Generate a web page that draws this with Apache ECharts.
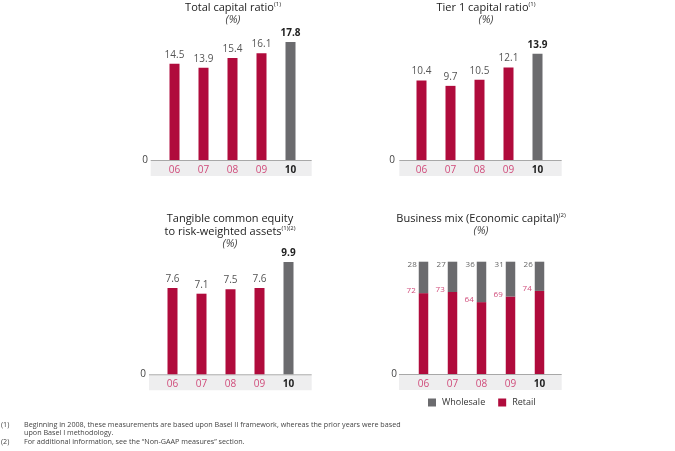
<!DOCTYPE html>
<html><head><meta charset="utf-8">
<script src="https://cdn.jsdelivr.net/npm/echarts@6/dist/echarts.min.js"></script>
<style>html,body{margin:0;padding:0;background:#fff}#c{width:675px;height:451px}</style>
</head><body><div id="c"></div>
<script>
const categories = ['06','07','08','09','10'];
const totalCapital = [14.5, 13.9, 15.4, 16.1, 17.8];
const tier1 = [10.4, 9.7, 10.5, 12.1, 13.9];
const tangible = [7.6, 7.1, 7.5, 7.6, 9.9];
const retail = [72, 73, 64, 69, 74];
const wholesale = [28, 27, 36, 31, 26];
const seriesNames = ['Retail', 'Wholesale'];
const footnoteMarks = ['(1)', '', '(2)'];
const footnotes = [
  'Beginning in 2008, these measurements are based upon Basel II framework, whereas the prior years were based',
  'upon Basel I methodology.',
  'For additional information, see the \u201cNon-GAAP measures\u201d section.'
];

const FONT = '"Open Sans", "Noto Sans", sans-serif';
const RED = '#b00b3c';
const GRAY = '#6b6b6e';
const PINK = '#d04b7a';

const chart = echarts.init(document.getElementById('c'), null, {renderer: 'canvas'});

const panels = [
  {left: 160, top: 40, height: 120, max: 18.1, bw: 10, bandL: 150.7, bandR: 311.7},
  {left: 407, top: 40, height: 120, max: 15.7, bw: 10, bandL: 399.3, bandR: 561.7},
  {left: 158, top: 254.3, height: 120, max: 10.57, bw: 10, bandL: 149, bandR: 311.7},
  {left: 409, top: 261.7, height: 112.3, max: 100, bw: 9.5, bandL: 399, bandR: 561.7}
];

const grids = panels.map(p => ({left: p.left, top: p.top, width: 145, height: p.height}));
const xAxes = panels.map((p, i) => ({
  type: 'category', gridIndex: i, data: categories,
  axisLine: {show: false}, axisTick: {show: false},
  axisLabel: {
    interval: 0, margin: 5, fontFamily: FONT, fontSize: 10,
    formatter: (v) => v === '10' ? '{b|' + v + '}' : '{n|' + v + '}',
    rich: {n: {color: PINK, fontSize: 10, fontFamily: FONT}, b: {color: '#222', fontWeight: 'bold', fontSize: 10, fontFamily: FONT}}
  }
}));
const yAxes = panels.map((p, i) => ({
  type: 'value', gridIndex: i, min: 0, max: p.max, interval: p.max,
  splitLine: {show: false}, axisLine: {show: false}, axisTick: {show: false},
  axisLabel: {margin: 12, color: '#444', fontSize: 10, fontFamily: FONT, formatter: v => v === 0 ? '0' : ''}
}));

function ratioSeries(values, i) {
  return {
    type: 'bar', xAxisIndex: i, yAxisIndex: i, barWidth: panels[i].bw,
    data: values.map((v, k) => k === values.length - 1
      ? {value: v, itemStyle: {color: GRAY}, label: {color: '#222', fontWeight: 'bold'}}
      : {value: v}),
    itemStyle: {color: RED},
    label: {show: true, position: 'top', distance: 4, color: '#555', fontSize: 10, fontFamily: FONT,
      formatter: p => p.value.toFixed(1)},
    silent: true, animation: false
  };
}

const series = [
  ratioSeries(totalCapital, 0),
  ratioSeries(tier1, 1),
  ratioSeries(tangible, 2),
  {
    name: seriesNames[0], type: 'bar', stack: 'mix', xAxisIndex: 3, yAxisIndex: 3, barWidth: panels[3].bw,
    data: retail, itemStyle: {color: RED},
    label: {show: true, position: [-3, -2], align: 'right', verticalAlign: 'middle', color: PINK, fontSize: 8, fontFamily: FONT},
    animation: false
  },
  {
    name: seriesNames[1], type: 'bar', stack: 'mix', xAxisIndex: 3, yAxisIndex: 3, barWidth: panels[3].bw,
    data: wholesale, itemStyle: {color: GRAY},
    label: {show: true, position: [-2, 3.5], align: 'right', verticalAlign: 'middle', color: '#666', fontSize: 8, fontFamily: FONT},
    animation: false
  }
];

const supRich = {
  t: {fontSize: 11, color: '#222', fontFamily: FONT, lineHeight: 13},
  s: {fontSize: 6, color: '#222', fontFamily: FONT, verticalAlign: 'top', padding: [0, 0, 5, 0], lineHeight: 13},
  p: {fontSize: 11, color: '#444', fontFamily: FONT, fontStyle: 'italic', lineHeight: 12}
};
function title(text, x, y) {
  return {text: text, left: x, top: y, textAlign: 'center', padding: 0,
    textStyle: {rich: supRich, fontSize: 11, fontWeight: 'normal', fontFamily: FONT}};
}

const graphics = [];
panels.forEach((p, i) => {
  const axisY = p.top + p.height;
  graphics.push({type: 'rect', silent: true, z: -1,
    shape: {x: p.bandL, y: axisY + 1, width: p.bandR - p.bandL, height: 15}, style: {fill: '#eeeeef'}});
  graphics.push({type: 'line', silent: true, z: 1,
    shape: {x1: p.bandL, y1: axisY + 0.5, x2: p.bandR, y2: axisY + 0.5}, style: {stroke: '#a8a8a8', lineWidth: 1}});
});
footnotes.forEach((t, k) => {
  const y = 421 + k * 8.6;
  if (footnoteMarks[k]) {
    graphics.push({type: 'text', silent: true, left: 1, top: y,
      style: {text: footnoteMarks[k], fill: '#444', font: '7.2px ' + FONT}});
  }
  graphics.push({type: 'text', silent: true, left: 24, top: y,
    style: {text: t, fill: '#444', font: '7.2px ' + FONT}});
});

chart.setOption({
  animation: false,
  textStyle: {fontFamily: FONT},
  title: [
    title('{t|Total capital ratio}{s|(1)}\n{p|(%)}', 233, 1),
    title('{t|Tier 1 capital ratio}{s|(1)}\n{p|(%)}', 486, 1),
    title('{t|Tangible common equity}\n{t|to risk-weighted assets}{s|(1)(2)}\n{p|(%)}', 230, 212),
    title('{t|Business mix (Economic capital)}{s|(2)}\n{p|(%)}', 481, 212)
  ],
  legend: {
    data: [seriesNames[1], seriesNames[0]], left: 428, top: 398, icon: 'rect',
    itemWidth: 8, itemHeight: 8, itemGap: 13, padding: 0,
    textStyle: {fontSize: 9, color: '#333', fontFamily: FONT, padding: [0, 0, 0, 1]}
  },
  grid: grids, xAxis: xAxes, yAxis: yAxes, series: series, graphic: graphics
});
</script></body></html>
